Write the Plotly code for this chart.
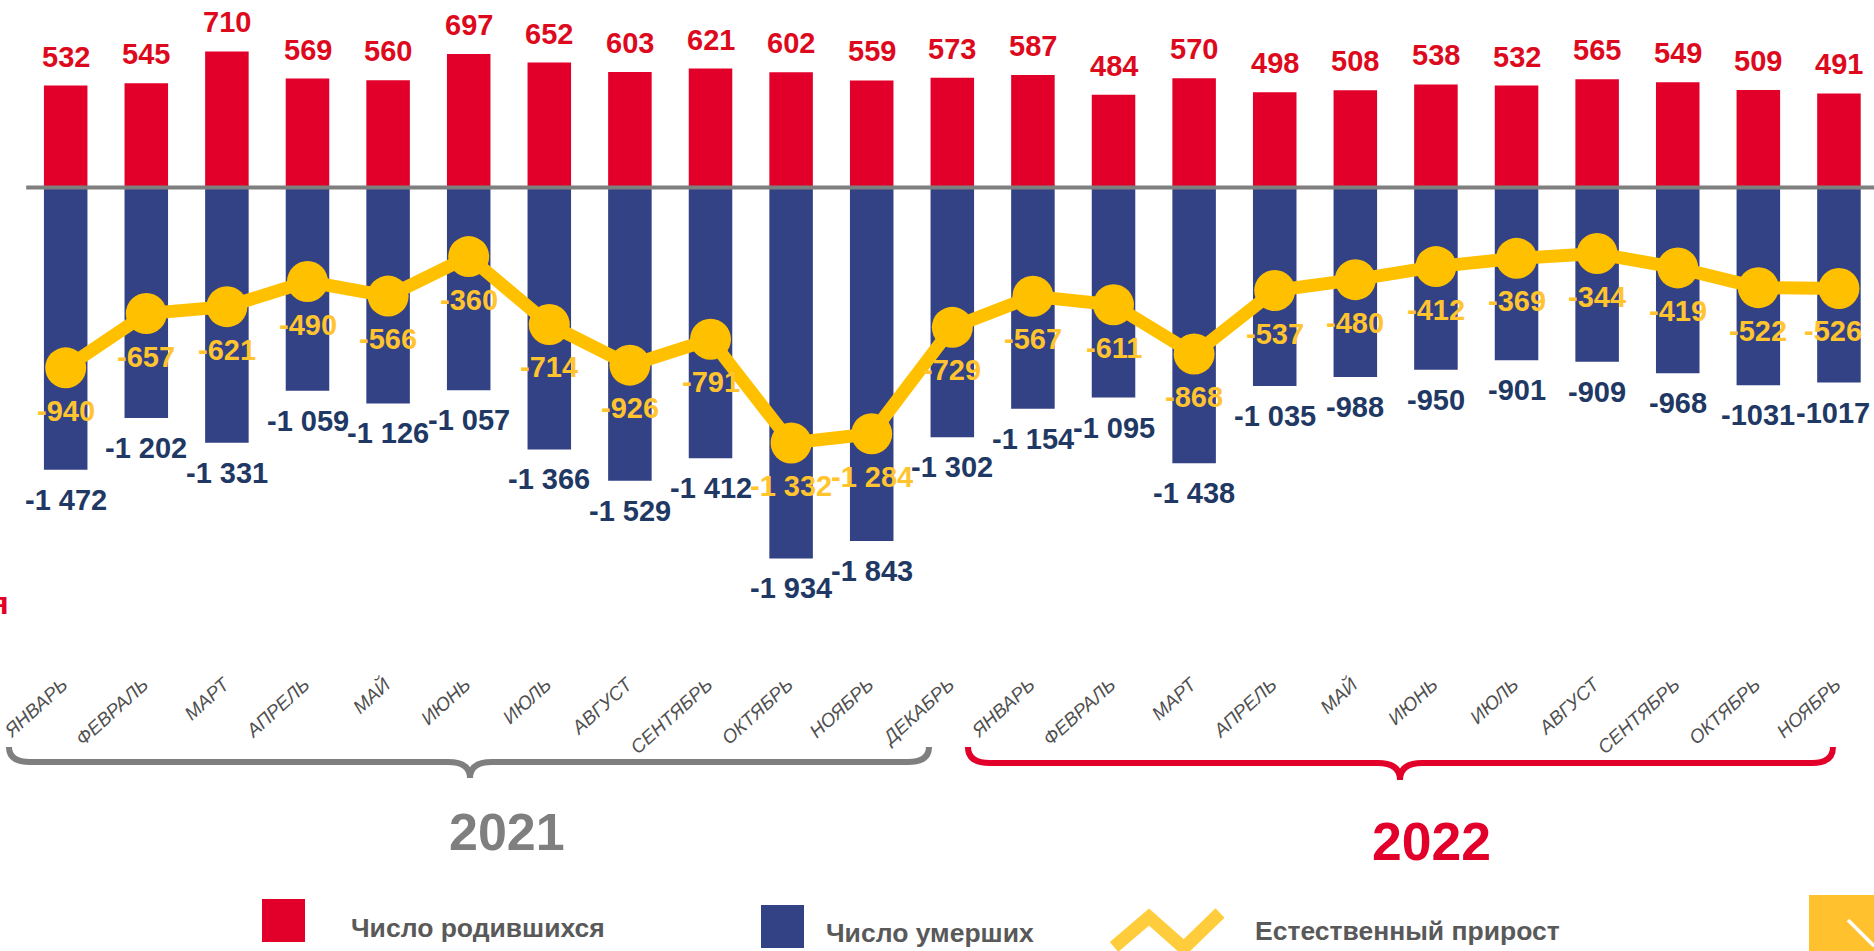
import plotly.graph_objects as go

months = ["ЯНВАРЬ","ФЕВРАЛЬ","МАРТ","АПРЕЛЬ","МАЙ","ИЮНЬ","ИЮЛЬ","АВГУСТ","СЕНТЯБРЬ","ОКТЯБРЬ","НОЯБРЬ","ДЕКАБРЬ",
          "ЯНВАРЬ","ФЕВРАЛЬ","МАРТ","АПРЕЛЬ","МАЙ","ИЮНЬ","ИЮЛЬ","АВГУСТ","СЕНТЯБРЬ","ОКТЯБРЬ","НОЯБРЬ"]
births = [532,545,710,569,560,697,652,603,621,602,559,573,587,484,570,498,508,538,532,565,549,509,491]
deaths = [-1472,-1202,-1331,-1059,-1126,-1057,-1366,-1529,-1412,-1934,-1843,-1302,-1154,-1095,-1438,-1035,-988,-950,-901,-909,-968,-1031,-1017]
growth = [-940,-657,-621,-490,-566,-360,-714,-926,-791,-1332,-1284,-729,-567,-611,-868,-537,-480,-412,-369,-344,-419,-522,-526]
death_labels = ["-1 472","-1 202","-1 331","-1 059","-1 126","-1 057","-1 366","-1 529","-1 412","-1 934","-1 843","-1 302",
                "-1 154","-1 095","-1 438","-1 035","-988","-950","-901","-909","-968","-1031","-1017"]
growth_labels = ["-940","-657","-621","-490","-566","-360","-714","-926","-791","-1 332","-1 284","-729",
                 "-567","-611","-868","-537","-480","-412","-369","-344","-419","-522","-526"]

W, H = 1874, 951
FONT = "Liberation Sans"
RED, BLUE, GOLD = "#E2002B", "#334185", "#FFC000"
GRAY, DARK = "#7F7F7F", "#595959"
xs = list(range(len(months)))

px = lambda v: v / W
py = lambda v: 1 - v / H
def path(*segs):
    out = []
    for cmd, pts in segs:
        out.append(cmd + " ".join(f"{px(a):.5f},{py(b):.5f}" for a, b in pts))
    return " ".join(out)

fig = go.Figure()
fig.add_bar(x=xs, y=births, name="Число родившихся", marker_color=RED, marker_line_width=0)
fig.add_bar(x=xs, y=deaths, name="Число умерших", marker_color=BLUE, marker_line_width=0)
fig.add_scatter(x=xs, y=growth, name="Естественный прирост", mode="lines+markers",
                line=dict(color=GOLD, width=13), marker=dict(color=GOLD, size=41))

ann = []
def label(i, v, t, color, shift, xshift=0):
    ann.append(dict(x=i, y=v, xref="x", yref="y", text=t, showarrow=False, yshift=shift, xshift=xshift,
                    font=dict(family=FONT, size=29, color=color, weight="bold")))
last = xs[-1]
for i in xs:
    label(i, births[i], str(births[i]), "#DD0A1E", 29)
    label(i, deaths[i], death_labels[i], "#1F3864", -30, -6 if i == last else 0)
    label(i, growth[i], growth_labels[i], "#FFC42E", -43, -6 if i == last else 0)

def note(x, y, t, size, color, xanchor="left"):
    ann.append(dict(x=px(x), y=py(y), xref="paper", yref="paper", text=t, showarrow=False,
                    xanchor=xanchor, yanchor="middle",
                    font=dict(family=FONT, size=size, color=color, weight="bold")))
note(507, 832, "2021", 52, GRAY, "center")
note(1431, 841, "2022", 53.5, RED, "center")
note(349, 928, "Число родившихся", 26.5, DARK)
note(824, 933, "Число умерших", 26.5, DARK)
note(1253, 931, "Естественный прирост", 26.5, DARK)
note(11, 603, "я", 32, RED, "right")

def shp(**k):
    return dict(xref="paper", yref="paper", **k)
shapes = [
    dict(type="line", xref="x", yref="y", x0=-0.49, x1=22.44, y0=0, y1=0, line=dict(color=GRAY, width=4), layer="above"),
    shp(type="path", line=dict(color=GRAY, width=6),
        path=path(("M", [(9,747)]), ("Q", [(9,762),(30,762)]), ("L", [(448,762)]), ("Q", [(470,762),(470,778)]),
                  ("Q", [(470,762),(492,762)]), ("L", [(908,762)]), ("Q", [(929,762),(929,747)]))),
    shp(type="path", line=dict(color=RED, width=6),
        path=path(("M", [(968,747)]), ("Q", [(968,763),(990,763)]), ("L", [(1378,763)]), ("Q", [(1400,763),(1400,780)]),
                  ("Q", [(1400,763),(1422,763)]), ("L", [(1812,763)]), ("Q", [(1833,763),(1833,747)]))),
    shp(type="rect", x0=px(262), x1=px(305), y0=py(942), y1=py(899), fillcolor=RED, line_width=0),
    shp(type="rect", x0=px(761), x1=px(804), y0=py(948), y1=py(905), fillcolor=BLUE, line_width=0),
    shp(type="path", line=dict(color="#FFCD3C", width=13),
        path=path(("M", [(1114,947)]), ("L", [(1149,917)]), ("L", [(1184,948)]), ("L", [(1220,913)]))),
    shp(type="rect", x0=px(1809), x1=px(1874), y0=py(951), y1=py(895), fillcolor="#FFC12D", line_width=0),
    shp(type="line", x0=px(1848), x1=px(1874), y0=py(920), y1=py(946), line=dict(color="white", width=3.5)),
]

fig.update_layout(
    width=W, height=H, margin=dict(l=0, r=0, t=0, b=0), autosize=False,
    paper_bgcolor="white", plot_bgcolor="white", showlegend=False,
    barmode="relative", bargap=0.46, annotations=ann, shapes=shapes,
    xaxis=dict(range=[-0.815, 22.435], domain=[0, 1], tickmode="array", tickvals=xs, ticktext=months,
               tickangle=-42, ticks="", showgrid=False, zeroline=False, showline=False, ticklabelshift=-3,
               anchor="free", position=py(669), tickfont=dict(family=FONT, size=19, color="#505050", style="italic")),
    yaxis=dict(range=[-3982, 978.6], domain=[0, 1], visible=False, showgrid=False, zeroline=False),
)
fig.write_html("out.html", config={"displayModeBar": False},
               post_script="document.body.style.margin='0';document.body.style.overflow='hidden';")
